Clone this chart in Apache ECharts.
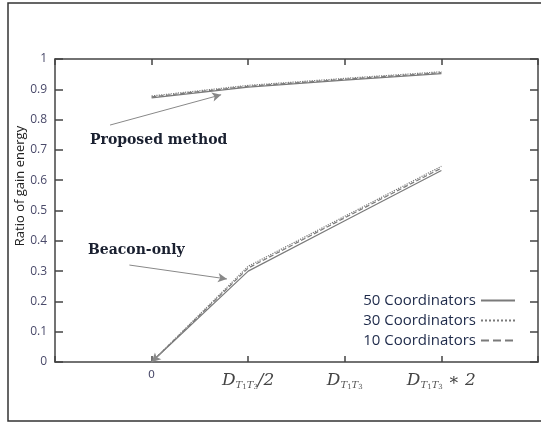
<!DOCTYPE html>
<html>
<head>
<meta charset="utf-8">
<script src="https://cdn.jsdelivr.net/npm/echarts@6/dist/echarts.min.js"></script>
<style>
  html, body { margin: 0; padding: 0; background: #fff; }
  #chart { width: 541px; height: 423px; }
</style>
</head>
<body>
<div id="chart"></div>
<script>
// 横轴位置 0..3 对应 0, D/2, D, D*2
const xPositions = [0, 1, 2, 3]
const yTicks = [0, 0.1, 0.2, 0.3, 0.4, 0.5, 0.6, 0.7, 0.8, 0.9, 1]
const seriesNames = ['50 Coordinators', '30 Coordinators', '10 Coordinators']

// Proposed method
const proposed50 = [0.872, 0.907, 0.930, 0.952]
const proposed30 = [0.878, 0.913, 0.936, 0.958]
const proposed10 = [0.875, 0.910, 0.933, 0.955]

// Beacon-only
const beacon50 = [0, 0.300, 0.466, 0.632]
const beacon30 = [0, 0.316, 0.481, 0.646]
const beacon10 = [0, 0.310, 0.476, 0.640]

const pairs = (ys) => xPositions.map((x, i) => [x, ys[i]])

const chart = echarts.init(document.getElementById('chart'))

const lineColor = '#7a7a7a'
const axisColor = '#444'
const tickText = '#4a4a6a'

const lineTypes = ['solid', 'dotted', 'dashed']
const groups = [
  [proposed50, beacon50],
  [proposed30, beacon30],
  [proposed10, beacon10]
]

const series = []
groups.forEach((g, k) => {
  g.forEach((ys) => {
    series.push({
      name: seriesNames[k],
      type: 'line',
      data: pairs(ys),
      symbol: 'none',
      silent: true,
      lineStyle: { color: lineColor, width: 1.2, type: lineTypes[k] },
      itemStyle: { color: lineColor }
    })
  })
})

// 注释箭头
series.push({
  type: 'line',
  data: [],
  silent: true,
  markLine: {
    silent: true,
    symbol: ['none', 'arrow'],
    symbolSize: [7, 9],
    label: { show: false },
    lineStyle: { color: '#888', width: 1, type: 'solid' },
    data: [
      [{ coord: [-0.43, 0.782] }, { coord: [0.72, 0.882] }],
      [{ coord: [-0.23, 0.32] }, { coord: [0.78, 0.274] }],
      [{ coord: [0.12, 0.036] }, { coord: [0, 0] }]
    ]
  }
})

const dLabel = (suffix) => '{d|D}{s|T}{ss|1}{s|T}{ss|3}{d|' + suffix + '}'
const xLabelText = ['0', dLabel('/2'), dLabel(''), dLabel(' ∗ 2')]

const frameAxisLine = { show: true, onZero: false, lineStyle: { color: axisColor, width: 1.5 } }

const option = {
  animation: false,
  grid: { left: 55, top: 59, right: 2, bottom: 61 },
  legend: {
    orient: 'vertical',
    right: 20,
    top: 288,
    align: 'right',
    itemWidth: 34,
    itemHeight: 12,
    itemGap: 5,
    data: seriesNames,
    itemStyle: { opacity: 0 },
    textStyle: { color: '#1e2a4a', fontSize: 15, fontFamily: 'Open Sans' }
  },
  xAxis: [
    {
      type: 'value',
      min: -1,
      max: 4,
      interval: 1,
      axisLine: frameAxisLine,
      axisTick: { inside: true, length: 6, lineStyle: { color: axisColor, width: 1.5 } },
      splitLine: { show: false },
      axisLabel: {
        margin: 8,
        formatter: (v) => (v >= 0 && v <= 3 ? xLabelText[v] : ''),
        color: tickText,
        fontSize: 11,
        fontFamily: 'DejaVu Sans',
        rich: {
          d: { fontFamily: 'DejaVu Serif', fontStyle: 'italic', fontSize: 17, color: '#444' },
          s: { fontFamily: 'DejaVu Serif', fontStyle: 'italic', fontSize: 10, color: '#555', padding: [10, 0, 0, 0] },
          ss: { fontFamily: 'DejaVu Serif', fontSize: 7, color: '#555', padding: [14, 0, 0, 0] }
        }
      }
    },
    {
      type: 'value',
      position: 'top',
      min: -1,
      max: 4,
      interval: 1,
      axisLine: frameAxisLine,
      axisTick: { show: true, inside: true, length: 6, lineStyle: { color: axisColor, width: 1.5 } },
      axisLabel: { show: false },
      splitLine: { show: false }
    }
  ],
  yAxis: [
    {
      type: 'value',
      min: 0,
      max: 1,
      interval: 0.1,
      axisLine: frameAxisLine,
      axisTick: { show: true, inside: true, length: 8, lineStyle: { color: axisColor, width: 1.5 } },
      splitLine: { show: false },
      axisLabel: {
        margin: 8,
        color: tickText,
        fontSize: 12,
        fontFamily: 'Open Sans',
        formatter: (v) => {
          const t = yTicks.find((y) => Math.abs(y - v) < 1e-6)
          return t === undefined ? '' : String(t)
        }
      }
    },
    {
      type: 'value',
      position: 'right',
      min: 0,
      max: 1,
      interval: 0.1,
      axisLine: frameAxisLine,
      axisTick: { show: true, inside: true, length: 8, lineStyle: { color: axisColor, width: 1.5 } },
      axisLabel: { show: false },
      splitLine: { show: false }
    }
  ],
  graphic: [
    {
      type: 'rect',
      shape: { x: 8, y: 3, width: 545, height: 418 },
      style: { fill: 'none', stroke: '#333', lineWidth: 1.5 },
      silent: true,
      z: -1
    },
    {
      type: 'text',
      x: 20,
      y: 186,
      rotation: Math.PI / 2,
      style: {
        text: 'Ratio of gain energy',
        fill: '#222',
        font: '13px "Open Sans"',
        align: 'center',
        verticalAlign: 'middle'
      }
    },
    {
      type: 'text',
      x: 90,
      y: 140,
      style: {
        text: 'Proposed method',
        fill: '#1a2030',
        font: 'bold 14px "DejaVu Serif"',
        align: 'left',
        verticalAlign: 'middle'
      }
    },
    {
      type: 'text',
      x: 88,
      y: 250,
      style: {
        text: 'Beacon-only',
        fill: '#1a2030',
        font: 'bold 14px "DejaVu Serif"',
        align: 'left',
        verticalAlign: 'middle'
      }
    }
  ],
  series: series
}

chart.setOption(option)
</script>
</body>
</html>
